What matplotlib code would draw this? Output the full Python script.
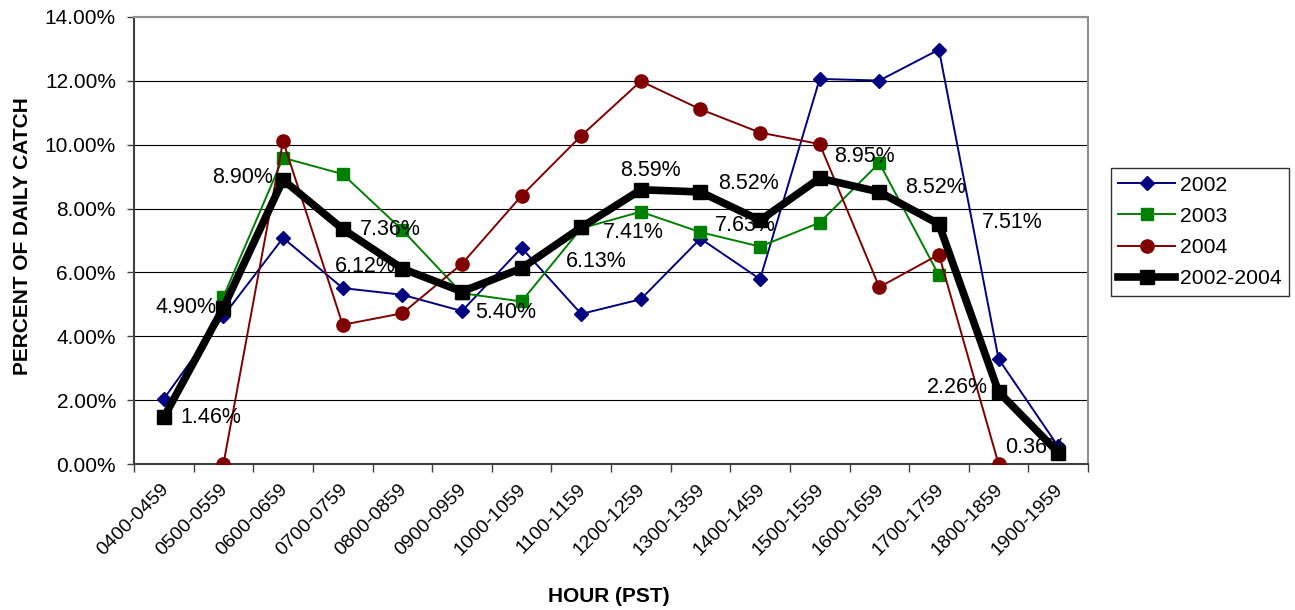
import numpy as np
import matplotlib
matplotlib.use('Agg')
from matplotlib import pyplot as plt
from matplotlib import transforms
from matplotlib.ticker import FuncFormatter, MultipleLocator

plt.rcParams['font.family'] = ['Liberation Sans', 'DejaVu Sans']

# hourly share of the daily catch (%)
hours = ['0400-0459', '0500-0559', '0600-0659', '0700-0759', '0800-0859',
         '0900-0959', '1000-1059', '1100-1159', '1200-1259', '1300-1359',
         '1400-1459', '1500-1559', '1600-1659', '1700-1759', '1800-1859',
         '1900-1959']
nan = np.nan
catch_2002 = [2.04, 4.64, 7.08, 5.51, 5.30, 4.79, 6.77, 4.70, 5.16, 7.06,
              5.79, 12.06, 12.01, 12.98, 3.29, 0.55]
catch_2003 = [nan, 5.24, 9.59, 9.08, 7.33, 5.35, 5.09, 7.38, 7.90, 7.26,
              6.81, 7.56, 9.43, 5.91, nan, nan]
catch_2004 = [nan, 0.00, 10.12, 4.36, 4.72, 6.27, 8.40, 10.28, 11.99, 11.11,
              10.38, 10.02, 5.54, 6.56, 0.00, nan]
catch_all = [1.46, 4.90, 8.90, 7.36, 6.12, 5.40, 6.13, 7.41, 8.59, 8.52,
             7.63, 8.95, 8.52, 7.51, 2.26, 0.36]

# where each value label sits relative to its point (pixels, alignment)
label_pos = [(17, 0, 'left'), (-7, 0, 'right'), (-10, 2, 'right'),
             (17, 0, 'left'), (-7, 2, 'right'), (13, -21, 'left'),
             (44, 7, 'left'), (22, -5, 'left'), (10, 19, 'center'),
             (18, 8, 'left'), (-15, -5, 'center'), (14, 22, 'left'),
             (26, 4, 'left'), (43, 2, 'left'), (-11, 4, 'right'),
             (-53, 5, 'left')]

fig = plt.figure(figsize=(12.95, 6.10), dpi=100)
ax = fig.add_axes([134 / 1295, 1 - 464 / 610, (1088 - 134) / 1295, (464 - 17) / 610])

x = np.arange(len(hours))
ax.plot(x, catch_2002, color='#000080', lw=1.4, marker='D', ms=7.5,
        label='2002', zorder=3)
ax.plot(x, catch_2003, color='#008000', lw=1.4, marker='s', ms=8.5,
        label='2003', zorder=3)
ax.plot(x, catch_2004, color='#800000', lw=1.4, marker='o', ms=9.5,
        label='2004', zorder=3)
ax.plot(x, catch_all, color='black', lw=5.5, marker='s', ms=10,
        label='2002-2004', zorder=5)

for i, v in enumerate(catch_all):
    dx, dy, ha = label_pos[i]
    ax.annotate(f'{v:.2f}%', (i, v), xytext=(dx, dy), textcoords='offset pixels',
                ha=ha, va='center', fontsize=15.5, zorder=4)

ax.set_xlim(-0.5, len(hours) - 0.5)
ax.set_ylim(0, 14)
ax.yaxis.set_major_locator(MultipleLocator(2))
ax.yaxis.set_major_formatter(FuncFormatter(lambda v, p: f'{v:.2f}%'))
ax.grid(axis='y', color='black', lw=0.8)
ax.set_axisbelow(True)

ax.set_xticks(x)
ax.set_xticklabels(hours, rotation=45, ha='right', rotation_mode='anchor')
ax.set_xticks(np.arange(len(hours) + 1) - 0.5, minor=True)
ax.tick_params(axis='x', which='major', length=0, pad=12, labelsize=14)
ax.tick_params(axis='x', which='minor', length=6, width=1, color='#404040')
ax.tick_params(axis='y', length=5, width=1, color='#404040', labelsize=15, pad=8)

# nudge the slanted hour labels a little to the left
shift = transforms.ScaledTranslation(-4 / 100, 0, fig.dpi_scale_trans)
for lbl in ax.get_xticklabels():
    lbl.set_transform(lbl.get_transform() + shift)

for side in ['top', 'right']:
    ax.spines[side].set_color('#909090')
    ax.spines[side].set_linewidth(1.5)
for side in ['left', 'bottom']:
    ax.spines[side].set_color('#404040')
    ax.spines[side].set_linewidth(1.5)

fig.text(609 / 1295, 1 - 597 / 610, 'HOUR (PST)', ha='center', va='center',
         fontsize=15, fontweight='bold')
fig.text(23 / 1295, 1 - 236 / 610, 'PERCENT OF DAILY CATCH', ha='center',
         va='center', rotation=90, fontsize=15, fontweight='bold')

leg = fig.legend(loc='center left', bbox_to_anchor=(1111 / 1295, 1 - 232 / 610),
                 fontsize=15.2, frameon=True, fancybox=False, shadow=False,
                 handlelength=2.7, handletextpad=0.2, labelspacing=0.58,
                 borderpad=0.35, borderaxespad=0)
leg.get_frame().set_edgecolor('black')
leg.get_frame().set_linewidth(1.0)

fig.savefig('out.png', dpi=100)
